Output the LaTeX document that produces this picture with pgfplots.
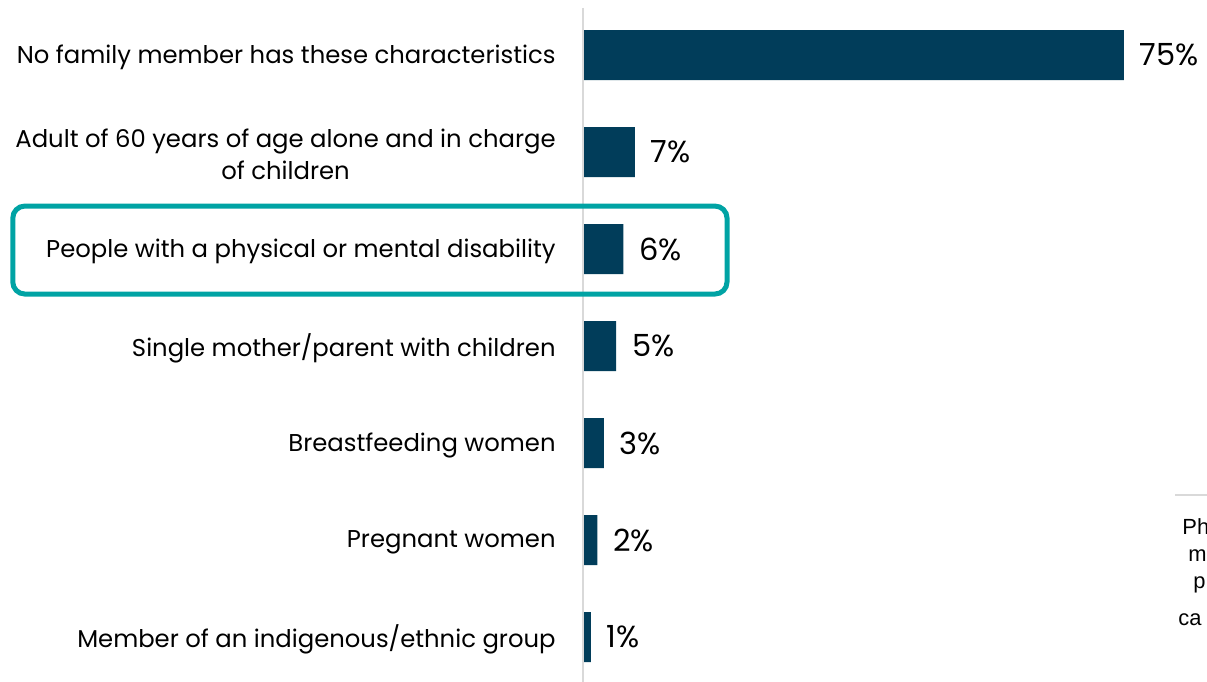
\documentclass[border=0pt]{standalone}
\usepackage{fontspec}
\setmainfont{Poppins}
\newfontfamily\fragfont{Liberation Sans}
\usepackage{pgfplots}
\pgfplotsset{compat=1.18}
\definecolor{barblue}{HTML}{013D5A}
\definecolor{boxteal}{HTML}{00A3A4}
\definecolor{axgray}{HTML}{D9D9D9}
\begin{document}
\begin{tikzpicture}
\begin{axis}[
  at={(291.5bp,0bp)}, anchor=south west,
  scale only axis, width=288.5bp, height=337bp,
  xbar, bar width=25bp,
  xmin=0, xmax=80,
  ymin=-0.485, ymax=6.464, y dir=reverse,
  ytick={0,...,6},
  yticklabels={No family member has these characteristics,
    {Adult of 60 years of age alone and in charge\\of children},
    People with a physical or mental disability,
    Single mother/parent with children,
    Breastfeeding women,
    Pregnant women,
    Member of an indigenous/ethnic group},
  yticklabel style={align=center, font=\fontsize{12.2}{16}\selectfont, text=black, inner sep=0pt, xshift=-13.5bp, yshift=-1bp},
  axis line style={draw=none},
  major tick length=0pt,
  xtick=\empty,
  clip=false,
  point meta=explicit symbolic,
  nodes near coords,
  nodes near coords style={font=\fontsize{15.3}{17}\selectfont, text=black, anchor=west, xshift=4.5bp},
]
\addplot[draw=none, fill=barblue] coordinates {
  (75,0) [75\%]
  (7.2,1) [7\%]
  (5.6,2) [6\%]
  (4.6,3) [5\%]
  (2.9,4) [3\%]
  (2.0,5) [2\%]
  (1.1,6) [1\%]
};
\draw[axgray, line width=0.75bp] (axis cs:0,-0.485) -- (axis cs:0,6.464);
\draw[boxteal, line width=2.5bp, rounded corners=6bp] (axis cs:-79.06,1.557) rectangle (axis cs:19.97,2.464);
\end{axis}
\begin{scope}
\clip (0,0) rectangle (603.5bp,341bp);
\draw[axgray, line width=0.75bp] (587.5bp,93.5bp) -- (610bp,93.5bp);
\node[anchor=west, inner sep=0pt, font=\fragfont\fontsize{11}{13}\selectfont] at (591bp,77.5bp) {Ph};
\node[anchor=west, inner sep=0pt, font=\fragfont\fontsize{11}{13}\selectfont] at (594bp,63bp) {m};
\node[anchor=west, inner sep=0pt, font=\fragfont\fontsize{11}{13}\selectfont] at (596.5bp,48.5bp) {p};
\node[anchor=west, inner sep=0pt, font=\fragfont\fontsize{11}{13}\selectfont] at (589bp,31bp) {ca};
\end{scope}
\pgfresetboundingbox
\path[use as bounding box] (0,0) rectangle (603.5bp,341bp);
\end{tikzpicture}
\end{document}
